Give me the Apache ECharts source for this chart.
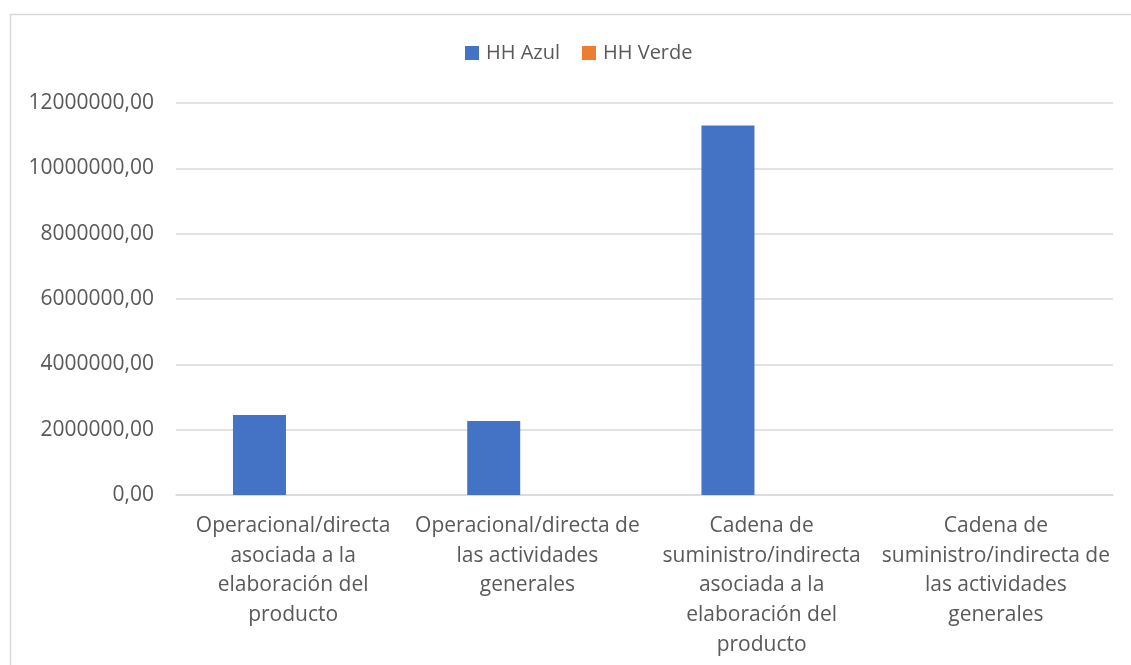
<!DOCTYPE html>
<html>
<head>
<meta charset="utf-8">
<script src="https://cdn.jsdelivr.net/npm/echarts@6/dist/echarts.min.js"></script>
<style>
html,body{margin:0;padding:0;background:#fff;}
#chart{width:1131px;height:665px;}
</style>
</head>
<body>
<div id="chart"></div>
<script>
const categories = [
  "Operacional/directa\nasociada a la\nelaboración del\nproducto",
  "Operacional/directa de\nlas actividades\ngenerales",
  "Cadena de\nsuministro/indirecta\nasociada a la\nelaboración del\nproducto",
  "Cadena de\nsuministro/indirecta de\nlas actividades\ngenerales"
];
const seriesNames = ["HH Azul", "HH Verde"];
const hhAzul = [2450000, 2265000, 11310000, 0];
const hhVerde = [0, 0, 0, 0];
const yTicks = { min: 0, max: 12000000, interval: 2000000 };

const FONT = "Open Sans";
const TXT = "#595959";
const chart = echarts.init(document.getElementById('chart'), null, {renderer: 'canvas'});
chart.setOption({
  animation: false,
  backgroundColor: '#ffffff',
  color: ['#4472C4', '#ED7D31'],
  graphic: [{
    type: 'rect', left: 8, top: 12, silent: true,
    shape: { width: 1200, height: 720 },
    style: { fill: 'none', stroke: '#d9d9d9', lineWidth: 1.5 }
  }],
  legend: {
    top: 38, left: 460, itemWidth: 14, itemHeight: 14, itemGap: 22,
    icon: 'rect',
    textStyle: { color: TXT, fontFamily: FONT, fontSize: 20, padding: [0, 0, 0, 2] },
    data: seriesNames
  },
  grid: { left: 176, right: 18, top: 103, bottom: 170, containLabel: false },
  xAxis: {
    type: 'category', data: categories,
    axisLine: { lineStyle: { color: '#d9d9d9', width: 1.5 } },
    axisTick: { show: false },
    axisLabel: { color: TXT, fontFamily: FONT, fontSize: 21, lineHeight: 29.7, margin: 16, interval: 0, align: 'center' }
  },
  yAxis: {
    type: 'value', min: yTicks.min, max: yTicks.max, interval: yTicks.interval,
    axisLine: { show: false }, axisTick: { show: false },
    splitLine: { lineStyle: { color: '#d9d9d9', width: 1.5 } },
    axisLabel: { color: TXT, fontFamily: FONT, fontSize: 21, margin: 22,
      formatter: v => String(Math.round(v)) + ',00' }
  },
  series: [
    { name: seriesNames[0], type: 'bar', data: hhAzul, barWidth: 53, barGap: '27%' },
    { name: seriesNames[1], type: 'bar', data: hhVerde, barWidth: 53, barGap: '27%' }
  ]
});
</script>
</body>
</html>
